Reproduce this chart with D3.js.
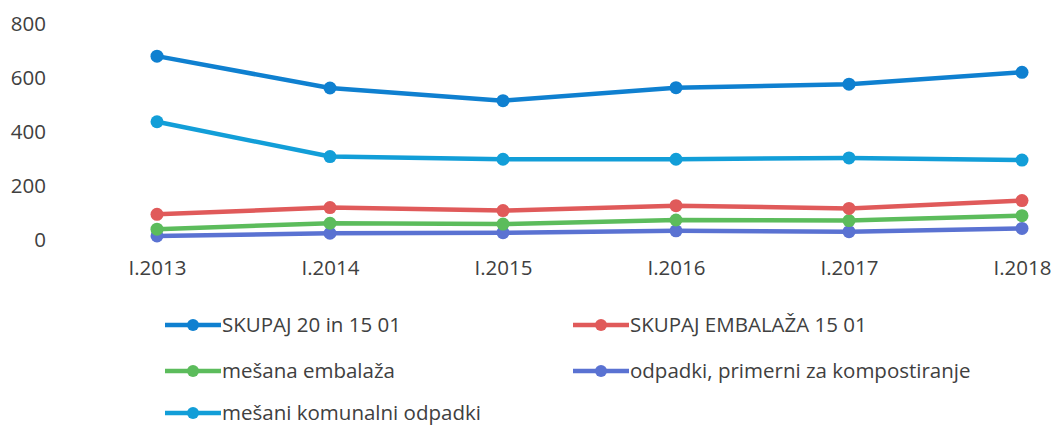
<!DOCTYPE html>
<html>
<head>
<meta charset="utf-8">
<script src="https://cdn.jsdelivr.net/npm/d3@7"></script>
<style>
  body { margin: 0; background: #fff; }
  text { font-family: "Open Sans", sans-serif; fill: #404040; }
</style>
</head>
<body>
<div class="graphContainer"></div>
<script>
var categories = ["I.2013", "I.2014", "I.2015", "I.2016", "I.2017", "I.2018"];
var yTicks = [0, 200, 400, 600, 800];

var seriesNames = [
  "SKUPAJ 20 in 15 01",
  "SKUPAJ EMBALAŽA 15 01",
  "mešana embalaža",
  "odpadki, primerni za kompostiranje",
  "mešani komunalni odpadki"
];
var skupaj = [681, 563, 516, 564, 577, 621];
var skupajEmbalaza = [95, 120, 109, 127, 117, 146];
var mesanaEmbalaza = [40, 62, 59, 74, 72, 90];
var kompost = [15, 25, 27, 34, 31, 43];
var komunalni = [438, 309, 299, 299, 304, 296];
var colors = ["#0f80d0", "#e05a5a", "#5cbc5c", "#5a72d2", "#129ed8"];

var seriesValues = [skupaj, skupajEmbalaza, mesanaEmbalaza, kompost, komunalni];

var w = 1054, h = 425;

var x = d3.scalePoint()
  .domain(categories)
  .range([157, 1022]);

var y = d3.scaleLinear()
  .domain([0, 800])
  .range([240, 24]);

var svg = d3.select(".graphContainer")
  .append("svg")
  .attr("width", w)
  .attr("height", h);

// y axis labels, no line
var yAxis = d3.axisLeft(y).tickValues(yTicks).tickSize(0).tickPadding(0);
var gy = svg.append("g")
  .attr("transform", "translate(46,0)")
  .call(yAxis);
gy.select(".domain").remove();
gy.selectAll("text")
  .style("font-size", "20.5px")
  .attr("fill", "#404040");

// x axis labels
var xAxis = d3.axisBottom(x).tickSize(0).tickPadding(0);
var gx = svg.append("g")
  .attr("transform", "translate(0,260)")
  .call(xAxis);
gx.select(".domain").remove();
gx.selectAll("text")
  .style("font-size", "20.5px")
  .attr("fill", "#404040");

var line = d3.line()
  .x(function (d, i) { return x(categories[i]); })
  .y(function (d) { return y(d); });

// draw bottom to top so the blue lines sit on top, like the original
var order = [3, 2, 1, 4, 0];
order.forEach(function (k) {
  var g = svg.append("g");
  g.append("path")
    .datum(seriesValues[k])
    .attr("fill", "none")
    .attr("stroke", colors[k])
    .attr("stroke-width", 4.5)
    .attr("stroke-linejoin", "round")
    .attr("d", line);
  g.selectAll("circle")
    .data(seriesValues[k])
    .enter()
    .append("circle")
    .attr("cx", function (d, i) { return x(categories[i]); })
    .attr("cy", function (d) { return y(d); })
    .attr("r", 6.5)
    .attr("fill", colors[k]);
});

// legend
var legendPos = [
  [165, 325], [573, 325],
  [165, 371], [573, 371],
  [165, 413]
];
seriesNames.forEach(function (name, k) {
  var p = legendPos[k];
  var g = svg.append("g").attr("transform", "translate(" + p[0] + "," + p[1] + ")");
  g.append("line")
    .attr("x1", 0).attr("x2", 56)
    .attr("y1", 0).attr("y2", 0)
    .attr("stroke", colors[k])
    .attr("stroke-width", 4.5);
  g.append("circle")
    .attr("cx", 28).attr("cy", 0).attr("r", 6)
    .attr("fill", colors[k]);
  g.append("text")
    .attr("x", 57)
    .attr("y", 0)
    .attr("dy", "0.35em")
    .style("font-size", "20.5px")
    .text(name);
});
</script>
</body>
</html>
